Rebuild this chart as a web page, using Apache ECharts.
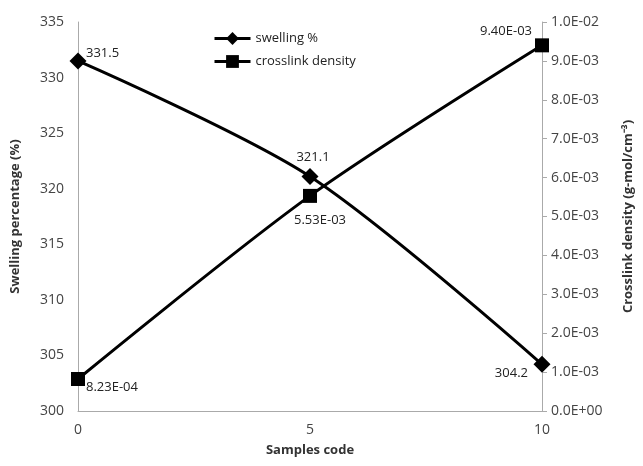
<!DOCTYPE html>
<html><head><meta charset="utf-8">
<script src="https://cdn.jsdelivr.net/npm/echarts@6/dist/echarts.min.js"></script>
<style>html,body{margin:0;padding:0;background:#fff}#c{width:643px;height:466px}</style>
</head><body><div id="c"></div>
<script>
var samples = [0, 5, 10];
var swelling = [331.5, 321.1, 304.2];
var crosslink = [8.23e-4, 5.53e-3, 9.40e-3];
var swellLabels = ['331.5', '321.1', '304.2'];
var crossLabels = ['8.23E-04', '5.53E-03', '9.40E-03'];

function sci(v) {
  if (v === 0) return '0.0E+00';
  var s = v.toExponential(1).toUpperCase();
  var m = s.split('E');
  var e = parseInt(m[1], 10);
  var sign = e < 0 ? '-' : '+';
  var a = Math.abs(e);
  return m[0] + 'E' + sign + (a < 10 ? '0' + a : a);
}
var FONT = 'Open Sans';
var chart = echarts.init(document.getElementById('c'));
var swellPos = [[8, -8, 'left'], [3, -19, 'center'], [-14, 9, 'right']];
var crossPos = [[8, 8, 'left'], [10, 24, 'center'], [-10, -14, 'right']];
function mk(vals, labels, pos) {
  return vals.map(function (v, i) {
    return {
      value: [samples[i], v],
      label: {
        show: true, formatter: labels[i], position: 'inside',
        offset: [pos[i][0], pos[i][1]], align: pos[i][2],
        color: '#222', fontSize: 13, fontFamily: FONT
      }
    };
  });
}
chart.setOption({
  animation: false,
  textStyle: { fontFamily: FONT },
  grid: { left: 78, right: 98, top: 22, bottom: 55 },
  legend: {
    orient: 'vertical', left: 208, top: 27, itemGap: 10,
    itemWidth: 36, itemHeight: 16,
    lineStyle: { width: 3 },
    textStyle: { fontSize: 13, color: '#222', fontFamily: FONT },
    data: ['swelling %', 'crosslink density']
  },
  xAxis: {
    type: 'value', min: 0, max: 10, interval: 5,
    name: 'Samples code', nameLocation: 'middle', nameGap: 33,
    nameTextStyle: { fontWeight: 'bold', fontSize: 13, color: '#333', fontFamily: FONT },
    axisLine: { lineStyle: { color: '#aaa' } },
    axisTick: { show: false },
    splitLine: { show: false },
    axisLabel: { color: '#444', fontSize: 14, margin: 12 }
  },
  yAxis: [{
    type: 'value', min: 300, max: 335, interval: 5,
    name: 'Swelling percentage (%)', nameLocation: 'middle', nameGap: 56,
    nameTextStyle: { fontWeight: 'bold', fontSize: 13, color: '#333', fontFamily: FONT },
    axisLine: { show: true, lineStyle: { color: '#aaa' } },
    axisTick: { show: false },
    splitLine: { show: false },
    axisLabel: { color: '#444', fontSize: 14, margin: 14 }
  }, {
    type: 'value', min: 0, max: 0.01, interval: 0.001, position: 'right',
    name: 'Crosslink density (g-mol/cm⁻³)', nameLocation: 'middle', nameGap: 80, nameRotate: 90,
    nameTextStyle: { fontWeight: 'bold', fontSize: 13, color: '#333', fontFamily: FONT },
    axisLine: { show: true, lineStyle: { color: '#aaa' } },
    axisTick: { show: true, length: 5, lineStyle: { color: '#aaa' } },
    splitLine: { show: false },
    axisLabel: { color: '#444', fontSize: 14, margin: 9, formatter: sci }
  }],
  series: [{
    name: 'swelling %', type: 'line', yAxisIndex: 0, smooth: 0.3,
    symbol: 'diamond', symbolSize: 17,
    lineStyle: { color: '#000', width: 3 }, itemStyle: { color: '#000' },
    data: mk(swelling, swellLabels, swellPos)
  }, {
    name: 'crosslink density', type: 'line', yAxisIndex: 1, smooth: 0.3,
    symbol: 'rect', symbolSize: 14,
    lineStyle: { color: '#000', width: 3 }, itemStyle: { color: '#000' },
    data: mk(crosslink, crossLabels, crossPos)
  }]
});
</script></body></html>
